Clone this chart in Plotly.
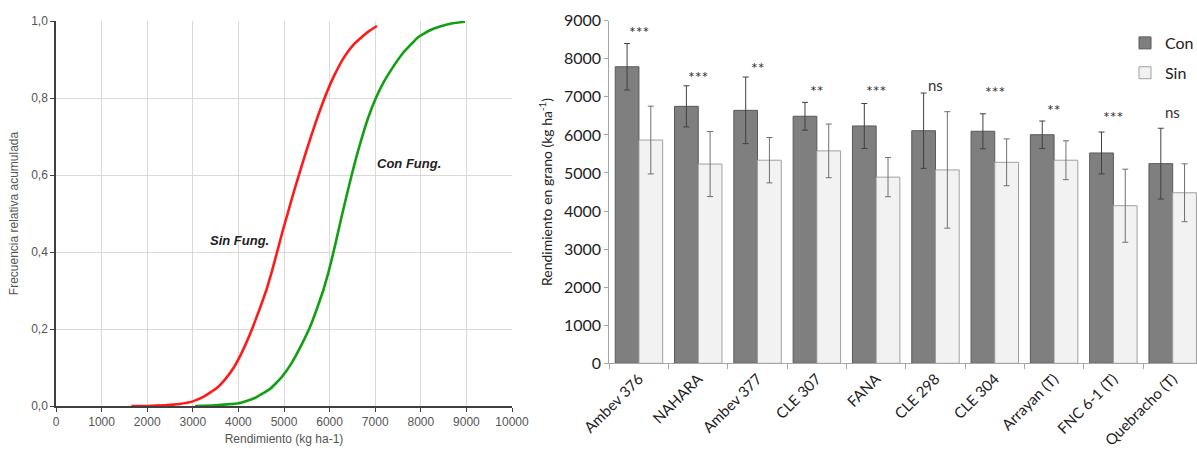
import plotly.graph_objects as go

# ---- Left chart: cumulative relative frequency ----
sin_x = [1650, 2000, 2400, 2700, 3000, 3250, 3520, 3700, 3910, 4100, 4300, 4460, 4610, 4730,
         4845, 4960, 5080, 5200, 5340, 5470, 5600, 5740, 5890, 6100, 6330, 6520, 6720, 6880, 7040]
sin_y = [0.0, 0.0, 0.002, 0.005, 0.012, 0.025, 0.046, 0.068, 0.102, 0.145, 0.200, 0.250, 0.300,
         0.348, 0.398, 0.450, 0.500, 0.550, 0.605, 0.655, 0.703, 0.752, 0.800, 0.858, 0.908,
         0.938, 0.960, 0.975, 0.987]
con_x = [3050, 3500, 4000, 4350, 4700, 4950, 5170, 5380, 5570, 5720, 5860, 5970, 6070, 6160,
         6250, 6370, 6480, 6590, 6710, 6850, 7015, 7180, 7360, 7610, 7940, 8200, 8420, 8700, 8970]
con_y = [0.0, 0.002, 0.007, 0.020, 0.045, 0.075, 0.112, 0.158, 0.205, 0.252, 0.300, 0.345,
         0.392, 0.438, 0.485, 0.545, 0.598, 0.648, 0.698, 0.750, 0.800, 0.840, 0.875, 0.917,
         0.958, 0.976, 0.986, 0.994, 0.998]
left_yticks = [0.0, 0.2, 0.4, 0.6, 0.8, 1.0]
left_yticklabels = ["0,0", "0,2", "0,4", "0,6", "0,8", "1,0"]

# ---- Right chart: yield by variety ----
varieties = ["Ambev 376", "NAHARA", "Ambev 377", "CLE 307", "FANA", "CLE 298", "CLE 304",
             "Arrayan (T)", "FNC 6-1 (T)", "Quebracho (T)"]
con_vals = [7790, 6750, 6645, 6490, 6235, 6110, 6095, 6005, 5525, 5245]
con_err = [610, 540, 875, 365, 590, 990, 460, 360, 550, 930]
sin_vals = [5865, 5235, 5335, 5580, 4890, 5080, 5280, 5335, 4140, 4480]
sin_err = [890, 855, 595, 705, 515, 1530, 615, 510, 960, 760]
signif = ["***", "***", "**", "**", "***", "ns", "***", "**", "***", "ns"]
signif_y = [8720, 7540, 7760, 7170, 7170, 7310, 7130, 6680, 6490, 6600]

fig = go.Figure()

fig.add_trace(go.Scatter(x=sin_x, y=sin_y, mode="lines",
                         line=dict(color="#ff1a1a", width=2.6, shape="spline", smoothing=0.3),
                         showlegend=False, xaxis="x", yaxis="y"))
fig.add_trace(go.Scatter(x=con_x, y=con_y, mode="lines",
                         line=dict(color="#12a012", width=2.6, shape="spline", smoothing=0.3),
                         showlegend=False, xaxis="x", yaxis="y"))

fig.add_trace(go.Bar(x=varieties, y=con_vals, name="Con", legendgroup="con",
                     marker=dict(color="#7f7f7f", line=dict(color="#595959", width=1)),
                     error_y=dict(type="data", array=con_err, color="#404040", thickness=1, width=3),
                     xaxis="x2", yaxis="y2"))
fig.add_trace(go.Bar(x=varieties, y=sin_vals, name="Sin", legendgroup="sin",
                     marker=dict(color="#f2f2f2", line=dict(color="#a0a0a0", width=1)),
                     error_y=dict(type="data", array=sin_err, color="#707070", thickness=1, width=3),
                     xaxis="x2", yaxis="y2"))

annotations = [
    dict(x=4030, y=0.431, xref="x", yref="y", text="<b><i>Sin Fung.</i></b>", showarrow=False,
         font=dict(family="Liberation Sans", size=13, color="#222")),
    dict(x=7740, y=0.631, xref="x", yref="y", text="<b><i>Con Fung.</i></b>", showarrow=False,
         font=dict(family="Liberation Sans", size=13, color="#222")),
]
for v, s, sy in zip(varieties, signif, signif_y):
    annotations.append(dict(x=v, y=sy, xref="x2", yref="y2", text=s, showarrow=False,
                            font=dict(family="Lato", size=15 if s == "ns" else 16, color="#333")))

fig.update_layout(
    width=1197, height=449,
    margin=dict(l=0, r=0, t=0, b=0, autoexpand=False),
    paper_bgcolor="white", plot_bgcolor="white",
    barmode="group", bargap=0.2, bargroupgap=0,
    xaxis=dict(domain=[56 / 1197, 512 / 1197], range=[0, 10000], dtick=1000, tick0=0,
               tickformat="d", automargin=False,
               showgrid=True, gridcolor="#d9d9d9", gridwidth=1,
               showline=True, linecolor="#404040", linewidth=1.5, ticks="outside", ticklen=4,
               tickcolor="#404040", zeroline=False,
               tickfont=dict(family="Liberation Sans", size=12, color="#555"),
               title=dict(text="Rendimiento (kg ha-1)", standoff=6,
                          font=dict(family="Liberation Sans", size=12, color="#555"))),
    yaxis=dict(domain=[43 / 449, 428 / 449], range=[0, 1], tickvals=left_yticks,
               ticktext=left_yticklabels, automargin=False,
               showgrid=True, gridcolor="#d9d9d9", gridwidth=1,
               showline=True, linecolor="#404040", linewidth=1.5, ticks="outside", ticklen=4,
               tickcolor="#404040", zeroline=False,
               tickfont=dict(family="Liberation Sans", size=12, color="#555"),
               title=dict(text="Frecuencia relativa acumulada", standoff=10,
                          font=dict(family="Liberation Sans", size=12, color="#555"))),
    xaxis2=dict(domain=[609.3 / 1197, 1.0], range=[-0.5, 9.41], anchor="y2", automargin=False,
                showline=True, linecolor="#a6a6a6", linewidth=1, ticks="outside",
                tickson="boundaries", ticklen=5, tickcolor="#a6a6a6", tickangle=-45,
                showgrid=False, zeroline=False,
                tickfont=dict(family="Lato", size=15, color="#222")),
    yaxis2=dict(domain=[85.7 / 449, 428.3 / 449], range=[0, 9000], dtick=1000, anchor="x2",
                automargin=False,
                showline=True, linecolor="#a6a6a6", linewidth=1, ticks="outside", ticklen=4,
                tickcolor="#a6a6a6", mirror=True, showgrid=False, zeroline=False,
                tickfont=dict(family="Lato", size=16, color="#222"),
                title=dict(text="Rendimiento en grano (kg ha<sup>-1</sup>)", standoff=8,
                           font=dict(family="Lato", size=14, color="#222"))),
    legend=dict(x=1125 / 1197, y=1 - 26 / 449, xanchor="left", yanchor="top",
                xref="paper", yref="paper", bgcolor="rgba(0,0,0,0)",
                font=dict(family="Lato", size=16, color="#222"), tracegroupgap=6,
                itemwidth=30),
    annotations=annotations,
)

fig.write_html("out.html", config={"displayModeBar": False},
               post_script="document.body.style.margin='0';")
